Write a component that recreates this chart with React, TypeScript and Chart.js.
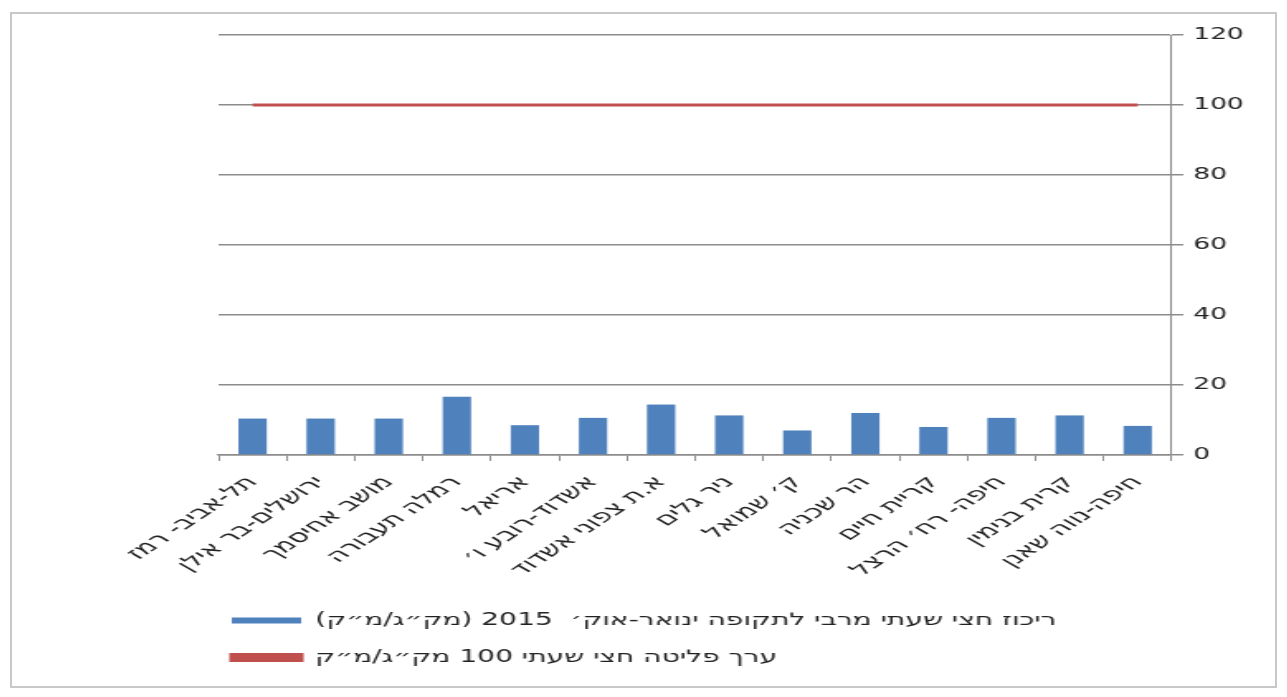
import React, { useEffect, useRef } from "react";
import { Chart, registerables } from "chart.js";

Chart.register(...registerables);

const categories = [
  "תל-אביב- רמז",
  "ירושלים-בר אילן",
  "מושב אחיסמך",
  "רמלה תעבורה",
  "אריאל",
  "אשדוד-רובע ו׳",
  "א.ת צפוני אשדוד",
  "ניר גלים",
  "ק׳ שמואל",
  "הר שכניה",
  "קריית חיים",
  "חיפה- רח׳ הרצל",
  "קרית בנימין",
  "חיפה-נווה שאנן",
];

const maxConcentration = [10.4, 10.4, 10.4, 16.6, 8.5, 10.6, 14.4, 11.3, 7.0, 12.0, 8.0, 10.6, 11.3, 8.3];
const emissionLimit = [100, 100, 100, 100, 100, 100, 100, 100, 100, 100, 100, 100, 100, 100];

const barLabel = "ריכוז חצי שעתי מרבי לתקופה ינואר-אוק׳  2015 (מק״ג/מ״ק)";
const lineLabel = "ערך פליטה חצי שעתי 100 מק״ג/מ״ק";

const yTicks = [0, 20, 40, 60, 80, 100, 120];

const STRETCH = 1.65;
const INNER_W = 1263;
const INNER_H = 672;

const legendShift = {
  id: "legendShift",
  afterLayout(chart: any) {
    if (chart.legend) {
      chart.legend.left -= 12;
    }
  },
};

export default function App() {
  const ref = useRef<HTMLCanvasElement | null>(null);

  useEffect(() => {
    if (!ref.current) return;
    const family = "'DejaVu Sans', sans-serif";
    const chart = new Chart(ref.current, {
      type: "bar",
      data: {
        labels: categories,
        datasets: [
          {
            type: "bar",
            label: barLabel,
            data: maxConcentration,
            backgroundColor: "#4f81bd",
            borderColor: "#4f81bd",
            borderWidth: 0,
            categoryPercentage: 0.8,
            barPercentage: 0.52,
          },
          {
            type: "line",
            label: lineLabel,
            data: emissionLimit,
            borderColor: "#c0504d",
            backgroundColor: "#c0504d",
            borderWidth: 3,
            pointRadius: 0,
            fill: false,
          },
        ],
      },
      plugins: [legendShift],
      options: {
        animation: false,
        responsive: true,
        maintainAspectRatio: false,
        layout: { padding: { left: 125, right: 14, top: 21, bottom: 10 } },
        plugins: {
          tooltip: { enabled: false },
          legend: {
            position: "bottom",
            align: "start",
            labels: {
              boxWidth: 42,
              boxHeight: 6,
              color: "#222",
              font: { family, size: 17 },
              padding: 20,
            },
          },
        },
        scales: {
          x: {
            grid: {
              display: true,
              drawOnChartArea: false,
              drawTicks: true,
              tickLength: 6,
              color: "#8c8c8c",
              lineWidth: 1,
            },
            border: { display: true, color: "#8c8c8c", width: 1.5 },
            ticks: {
              color: "#222",
              font: { family, size: 18 },
              minRotation: 47,
              maxRotation: 47,
              autoSkip: false,
              padding: 11,
            },
          },
          y: {
            position: "right",
            min: 0,
            max: 120,
            afterBuildTicks: (axis: any) => {
              axis.ticks = yTicks.map((v) => ({ value: v }));
            },
            grid: {
              color: "#8c8c8c",
              lineWidth: 1.5,
              tickLength: 7,
            },
            border: { display: true, color: "#8c8c8c", width: 1 },
            ticks: { color: "#222", font: { family, size: 16 }, padding: 6 },
          },
        },
      },
    });
    return () => chart.destroy();
  }, []);

  return (
    <div
      style={{
        position: "fixed",
        left: 10,
        top: 12,
        width: INNER_W + 4,
        height: INNER_H + 4,
        border: "2px solid #c8c8c8",
        boxSizing: "border-box",
        background: "#fff",
        overflow: "hidden",
      }}
    >
      <div
        style={{
          position: "absolute",
          left: 0,
          top: 0,
          width: INNER_W / STRETCH,
          height: INNER_H,
          transform: `scaleX(${STRETCH})`,
          transformOrigin: "0 0",
        }}
      >
        <canvas ref={ref} />
      </div>
    </div>
  );
}
